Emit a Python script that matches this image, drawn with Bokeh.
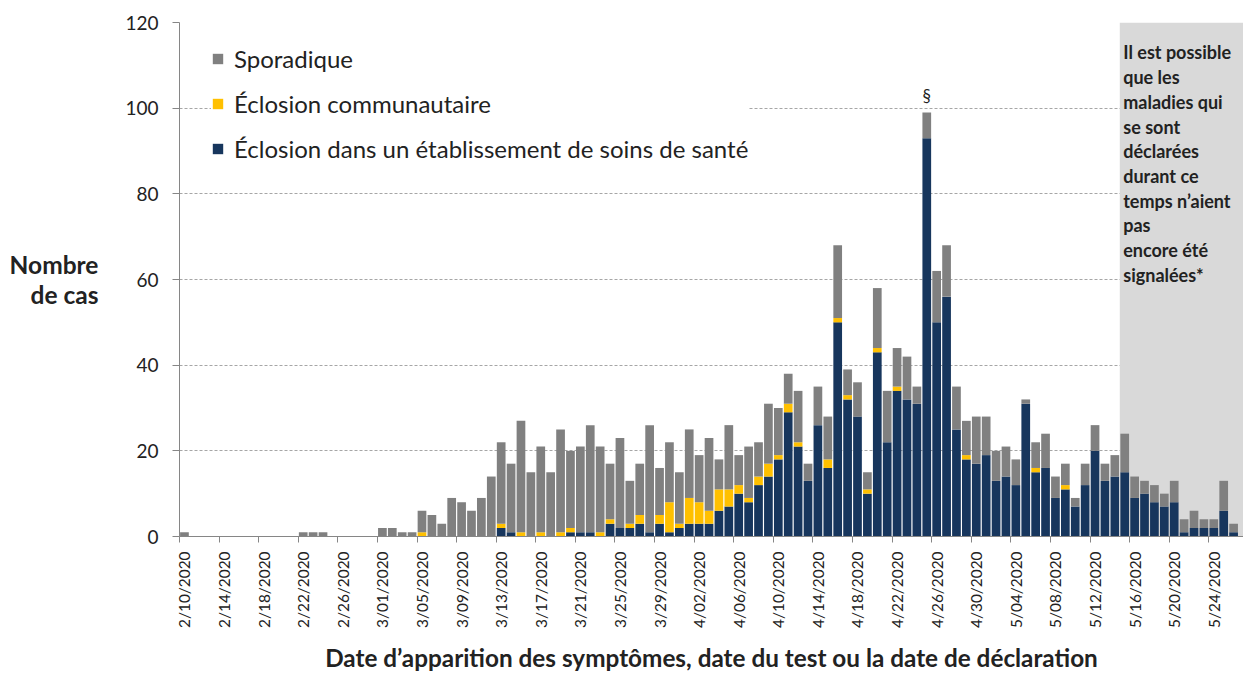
from math import pi
from bokeh.plotting import figure
from bokeh.models import (ColumnDataSource, Range1d, FixedTicker, Legend, LegendItem, Label)
from bokeh.embed import file_html
from bokeh.resources import INLINE

# ---- data (one value per day, 2/10/2020 .. 5/26/2020) ----
etablissement = [0,0,0,0,0,0,0,0,0,0, 0,0,0,0,0,0,0,0,0,0,
                 0,0,0,0,0,0,0,0,0,0, 0,0,2,1,0,0,0,0,0,1,
                 1,1,0,3,2,2,3,1,3,1, 2,3,3,3,6,7,10,8,12,14,
                 18,29,21,13,26,16,50,32,28,10, 43,22,34,32,31,93,50,56,25,18,
                 17,19,13,14,12,31,15,16,9,11, 7,12,20,13,14,15,9,10,8,7,
                 8,1,2,2,2,6,1]
communautaire = [0,0,0,0,0,0,0,0,0,0, 0,0,0,0,0,0,0,0,0,0,
                 0,0,0,0,1,0,0,0,0,0, 0,0,1,0,1,0,1,0,1,1,
                 0,0,1,1,0,1,2,0,2,7, 1,6,5,3,5,4,2,1,2,3,
                 1,2,1,0,0,2,1,1,0,1, 1,0,1,0,0,0,0,0,0,1,
                 0,0,0,0,0,0,1,0,0,1, 0,0,0,0,0,0,0,0,0,0,
                 0,0,0,0,0,0,0]
sporadique = [1,0,0,0,0,0,0,0,0,0, 0,0,1,1,1,0,0,0,0,0,
              2,2,1,1,5,5,3,9,8,6, 9,14,19,16,26,15,20,15,24,18,
              20,25,20,13,21,10,12,25,11,14, 12,16,11,17,7,15,7,12,8,14,
              11,7,12,4,9,10,17,6,8,4, 14,12,9,10,4,6,12,12,10,8,
              11,9,7,7,6,1,6,8,5,5, 2,5,6,4,5,9,5,3,4,3,
              5,3,4,2,2,7,2]
tick_labels = ["2/10/2020","2/14/2020","2/18/2020","2/22/2020","2/26/2020","3/01/2020",
               "3/05/2020","3/09/2020","3/13/2020","3/17/2020","3/21/2020","3/25/2020",
               "3/29/2020","4/02/2020","4/06/2020","4/10/2020","4/14/2020","4/18/2020",
               "4/22/2020","4/26/2020","4/30/2020","5/04/2020","5/08/2020","5/12/2020",
               "5/16/2020","5/20/2020","5/24/2020"]
series_names = ["Éclosion dans un établissement de soins de santé",
                "Éclosion communautaire", "Sporadique"]
colors = ["#17365D", "#FFC000", "#808080"]
note_lines = ["Il est possible", "que les", "maladies qui", "se sont", "déclarées",
              "durant ce", "temps n\u2019aient", "pas", "encore été", "signalées*"]
shade_start_day = 95   # 5/15/2020
peak_day = 75          # 4/25/2020

FONT = "Lato"
TXT = "#222222"

n_days = len(sporadique)
day_x = [i + 0.5 for i in range(n_days)]
src = ColumnDataSource(dict(x=day_x, etab=etablissement, comm=communautaire, spor=sporadique))

p = figure(width=1243, height=674, output_backend="svg", toolbar_location=None,
           x_range=Range1d(0, 107.5), y_range=Range1d(0, 120),
           min_border_left=179, min_border_top=22, min_border_right=0, min_border_bottom=136)
p.outline_line_color = None
p.xgrid.visible = False
p.ygrid.grid_line_color = "#A6A6A6"
p.ygrid.grid_line_dash = "3 2"
p.ygrid.grid_line_width = 1

# shaded "not yet reported" region
p.quad(left=[shade_start_day], right=[107.5], bottom=[0], top=[120],
       fill_color="#D9D9D9", line_color=None)

rs = p.vbar_stack(["etab", "comm", "spor"], x="x", width=0.88, source=src,
                  color=colors, line_color=None)

# x axis
tick_pos = [i + 0.5 for i in range(0, 105, 4)]
p.xaxis.ticker = FixedTicker(ticks=tick_pos, minor_ticks=list(range(0, 105, 4)))
p.xaxis.major_label_overrides = {t: l for t, l in zip(tick_pos, tick_labels)}
p.xaxis.major_label_orientation = pi / 2
p.xaxis.major_tick_out = 0
p.xaxis.major_tick_in = 0
p.xaxis.minor_tick_out = 6
p.xaxis.minor_tick_in = 0
p.xaxis.minor_tick_line_color = "#868686"
p.xaxis.major_label_standoff = 9
p.xaxis.major_label_text_font = FONT
p.xaxis.major_label_text_font_size = "15.4px"
p.xaxis.major_label_text_color = TXT
p.xaxis.axis_line_color = "#868686"
p.xaxis.axis_label = "Date d\u2019apparition des symptômes, date du test ou la date de déclaration"
p.xaxis.axis_label_text_font = FONT
p.xaxis.axis_label_text_font_style = "bold"
p.xaxis.axis_label_text_font_size = "24.3px"
p.xaxis.axis_label_text_color = TXT
p.xaxis.axis_label_text_line_height = 1.0
p.xaxis.axis_label_standoff = 12

# y axis
p.yaxis.ticker = FixedTicker(ticks=[0, 20, 40, 60, 80, 100, 120])
p.yaxis.major_tick_out = 7
p.yaxis.major_tick_in = 0
p.yaxis.minor_tick_out = 0
p.yaxis.minor_tick_in = 0
p.yaxis.major_tick_line_color = "#868686"
p.yaxis.axis_line_color = "#868686"
p.yaxis.major_label_standoff = 14
p.yaxis.major_label_text_font = FONT
p.yaxis.major_label_text_font_size = "19px"
p.yaxis.major_label_text_color = TXT
p.yaxis.axis_label = "Nombre\nde cas"
p.yaxis.axis_label_text_font = FONT
p.yaxis.axis_label_text_font_style = "bold"
p.yaxis.axis_label_text_font_size = "24.5px"
p.yaxis.axis_label_text_color = TXT
p.yaxis.axis_label_text_line_height = 1.05
p.yaxis.axis_label_text_align = "center"
p.yaxis.axis_label_standoff = 24
try:
    p.yaxis.axis_label_orientation = "horizontal"
except Exception:
    pass

# legend
legend = Legend(items=[LegendItem(label=series_names[2], renderers=[rs[2]]),
                       LegendItem(label=series_names[1], renderers=[rs[1]]),
                       LegendItem(label=series_names[0], renderers=[rs[0]])],
                location=(32, 373), orientation="vertical",
                glyph_width=13, glyph_height=13, label_height=24, spacing=16,
                padding=14, margin=0, label_standoff=10,
                label_text_font=FONT, label_text_font_size="24px", label_text_color=TXT,
                background_fill_color="white", background_fill_alpha=1.0,
                border_line_color=None)
p.add_layout(legend)

# peak marker
p.add_layout(Label(x=peak_day + 0.5, y=103, text="§", text_align="center",
                   text_baseline="middle", text_font=FONT, text_font_size="17px",
                   text_color=TXT))

# note in shaded region
for k, line in enumerate(note_lines):
    ypx = 52 + 24.7 * k
    p.add_layout(Label(x=shade_start_day + 0.35, y=(536 - ypx) / 4.283, text=line,
                       text_align="left", text_baseline="middle", text_font=FONT,
                       text_font_style="bold", text_font_size="18px", text_color=TXT))

open("out.html", "w").write(file_html(p, INLINE))
